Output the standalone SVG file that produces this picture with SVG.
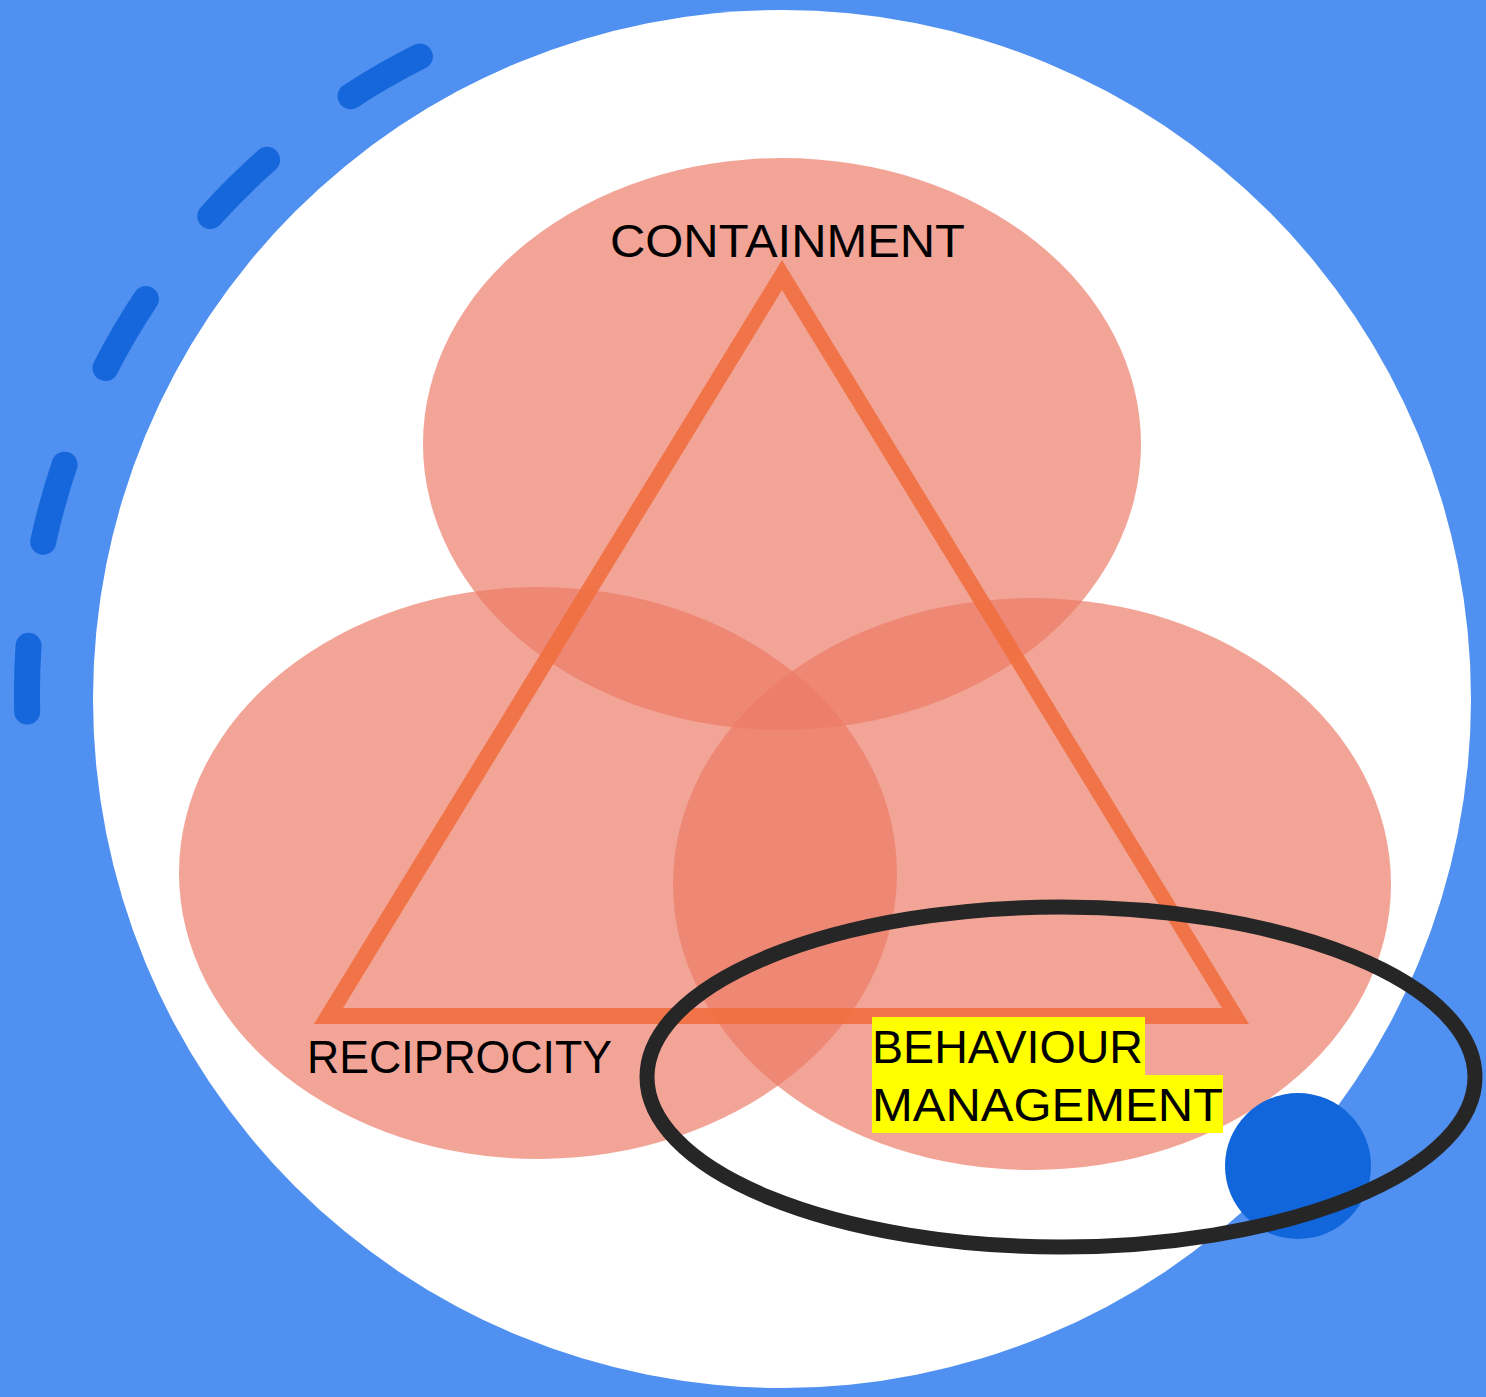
<svg xmlns="http://www.w3.org/2000/svg" width="1486" height="1397" viewBox="0 0 1486 1397">
<style>
.lbl{font-family:"Liberation Sans",Arial,sans-serif;font-size:47px;fill:#000;}
.pet{fill:rgb(236,123,102);fill-opacity:0.68;}
.hl{fill:#FFFF00;}
</style>
<rect x="0" y="0" width="1486" height="1397" fill="#5090F0"/>
<circle id="bg-circle" cx="782" cy="699" r="689" fill="#FFFFFF"/>
<g id="dash-arc">
<path d="M27.2 711.6 A712 712 0 0 1 421.3 55.8" fill="none" stroke="#1567DB" stroke-width="26" stroke-linecap="round" stroke-dasharray="80 105" stroke-dashoffset="14"/>
</g>
<g id="containment-ellipse"><ellipse class="pet" cx="782" cy="444" rx="359" ry="286"/></g>
<g id="reciprocity-ellipse"><ellipse class="pet" cx="538" cy="873" rx="359" ry="286"/></g>
<g id="behaviour-ellipse"><ellipse class="pet" cx="1032" cy="884" rx="359" ry="286"/></g>
<g id="triangle">
<path d="M782 260 L314 1024 L1249 1024 Z M782 290 L1222 1008 L343 1008 Z" fill="#F07040" fill-opacity="0.92" fill-rule="evenodd"/>
</g>
<g id="containment-label">
<text class="lbl" x="610" y="257" textLength="355" lengthAdjust="spacingAndGlyphs">CONTAINMENT</text>
</g>
<g id="reciprocity-label">
<text class="lbl" x="307" y="1073" textLength="305" lengthAdjust="spacingAndGlyphs">RECIPROCITY</text>
</g>
<g id="behaviour-label">
<rect class="hl" x="872" y="1017" width="273" height="58"/>
<rect class="hl" x="872" y="1075" width="351" height="58"/>
<text class="lbl" x="872" y="1063" textLength="271" lengthAdjust="spacingAndGlyphs">BEHAVIOUR</text>
<text class="lbl" x="872" y="1121" textLength="351" lengthAdjust="spacingAndGlyphs">MANAGEMENT</text>
</g>
<g id="blue-dot"><circle cx="1298" cy="1166" r="73" fill="#1166DB"/></g>
<g id="focus-ring"><ellipse cx="1061" cy="1077" rx="414" ry="170" fill="none" stroke="#262626" stroke-width="15"/></g>
</svg>
